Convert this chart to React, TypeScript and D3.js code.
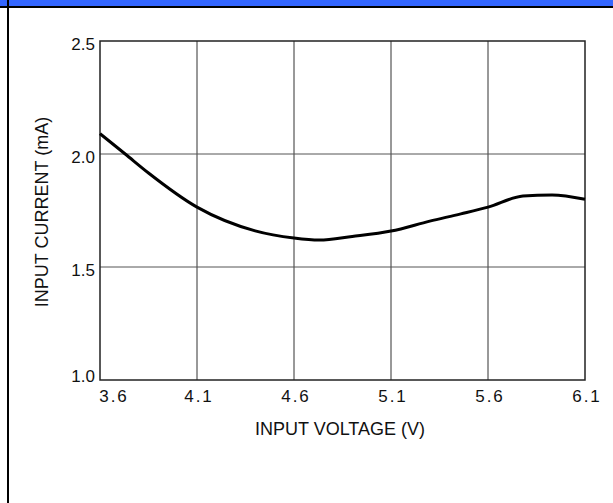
import React from "react";
import * as d3 from "d3";

const voltage = [3.6, 3.73, 3.85, 4.1, 4.4, 4.6, 4.73, 4.9, 5.1, 5.3, 5.46, 5.6, 5.78, 5.93, 6.1];
const current = [2.09, 2.0, 1.916, 1.765, 1.66, 1.628, 1.619, 1.635, 1.659, 1.703, 1.735, 1.765, 1.814, 1.819, 1.8];
const xTicks = [3.6, 4.1, 4.6, 5.1, 5.6, 6.1];
const yTicks = [1.0, 1.5, 2.0, 2.5];
const xTitle = "INPUT VOLTAGE (V)";
const yTitle = "INPUT CURRENT (mA)";

export default function App() {
  const W = 613, H = 503;
  const left = 100, right = 585, top = 41, bottom = 380;
  const x = d3.scaleLinear().domain([3.6, 6.1]).range([left, right]);
  const y = d3.scaleLinear().domain([1.0, 2.5]).range([bottom, top]);
  const pts: [number, number][] = voltage.map((v, i) => [v, current[i]]);
  const line = d3.line<[number, number]>().x(d => x(d[0])).y(d => y(d[1])).curve(d3.curveMonotoneX);
  const font = "Liberation Sans, Arial, sans-serif";
  return (
    <svg width={W} height={H} style={{ position: "absolute", left: 0, top: 0, background: "#fff" }}>
      <rect x={0} y={0} width={W} height={6} fill="#3366ff" />
      <rect x={0} y={6} width={W} height={2} fill="#000" />
      <rect x={7} y={0} width={2} height={H} fill="#000" />
      {xTicks.slice(1, -1).map(t => (
        <line key={"gx" + t} x1={x(t)} x2={x(t)} y1={top} y2={bottom} stroke="#333" strokeWidth={1} />
      ))}
      {yTicks.slice(1, -1).map(t => (
        <line key={"gy" + t} x1={left} x2={right} y1={y(t)} y2={y(t)} stroke="#555" strokeWidth={1} />
      ))}
      <rect x={left} y={top} width={right - left} height={bottom - top} fill="none" stroke="#222" strokeWidth={1.5} />
      <path d={line(pts) || ""} fill="none" stroke="#000" strokeWidth={3} />
      {yTicks.map((t, i) => (
        <text key={"ty" + t} x={left - 5} y={y(t) + (i === 0 ? 2 : 9)} textAnchor="end" fontFamily={font} fontSize={17} fill="#111">
          {t.toFixed(1)}
        </text>
      ))}
      {xTicks.map((t, i) => (
        <text key={"tx" + t} x={i === 0 ? x(t) + 14 : x(t) + 2} y={bottom + 22} textAnchor="middle" fontFamily={font} fontSize={17} letterSpacing={2} fill="#111">
          {t.toFixed(1)}
        </text>
      ))}
      <text x={340} y={435} textAnchor="middle" fontFamily={font} fontSize={18} fill="#111">{xTitle}</text>
      <text transform="translate(48,212) rotate(-90)" textAnchor="middle" fontFamily={font} fontSize={18} fill="#111">{yTitle}</text>
    </svg>
  );
}
